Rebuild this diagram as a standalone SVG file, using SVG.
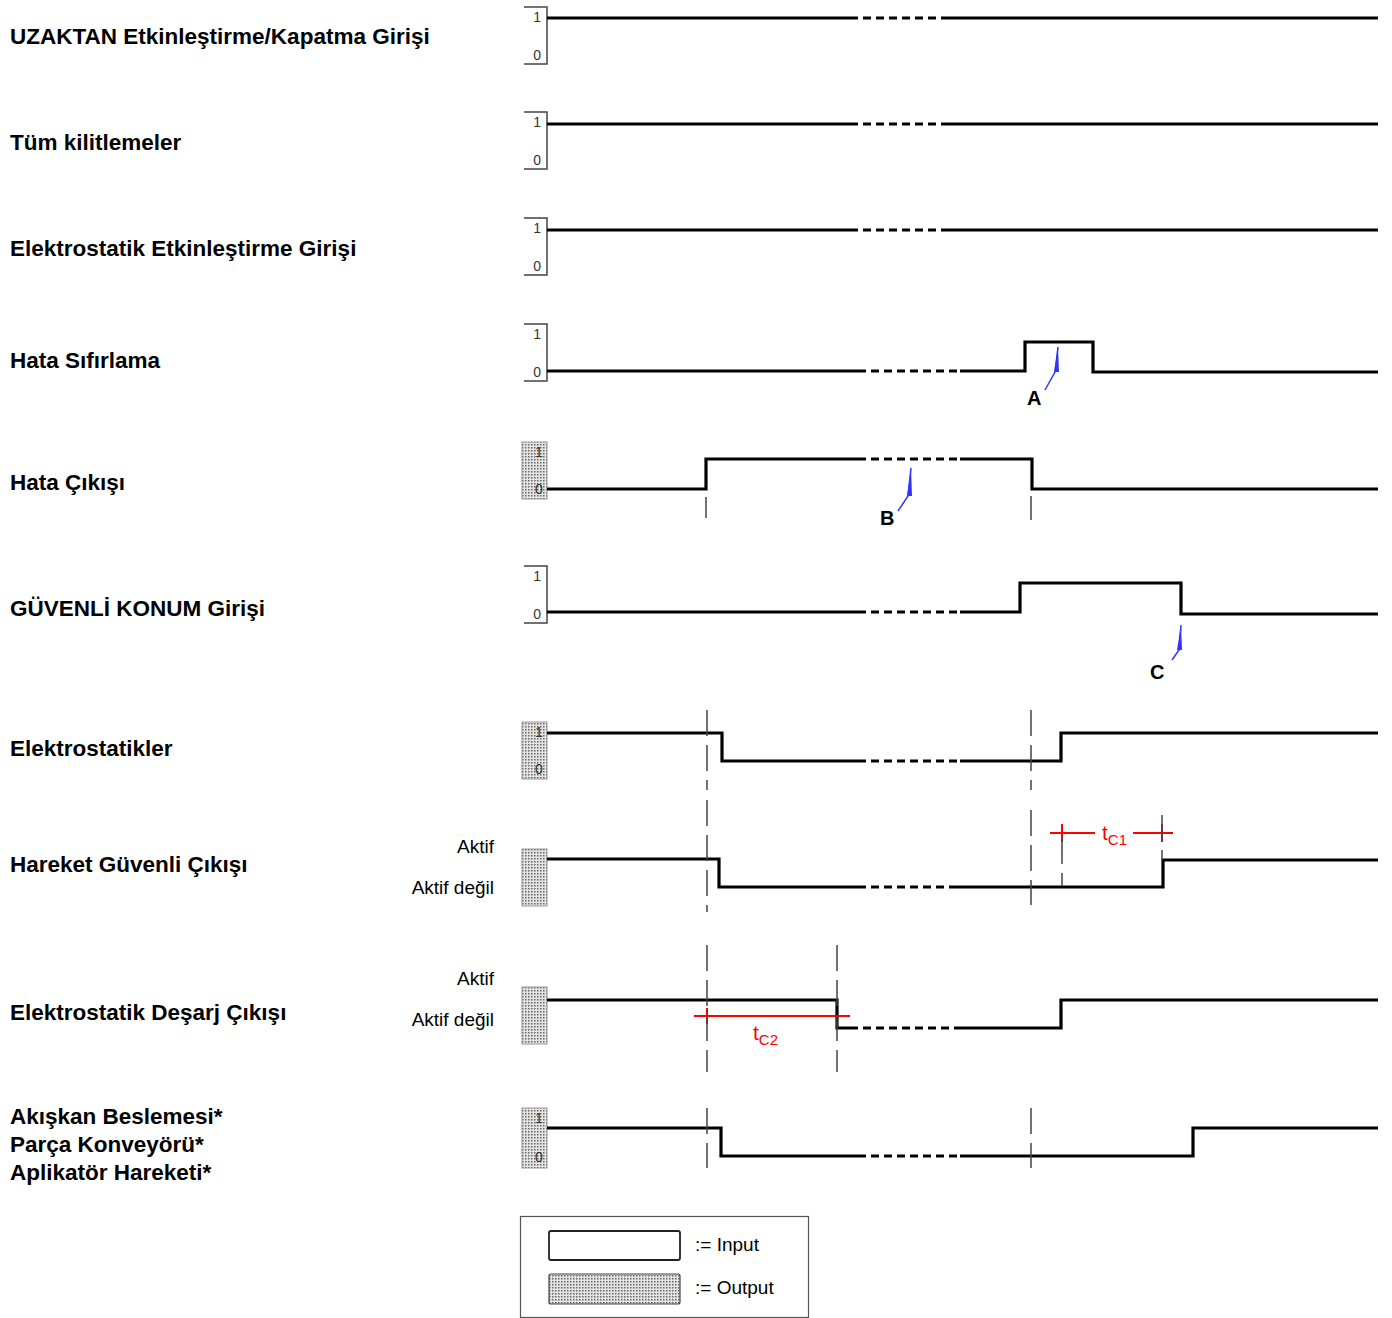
<svg xmlns="http://www.w3.org/2000/svg" width="1392" height="1318" viewBox="0 0 1392 1318">
<defs>
<pattern id="dots" width="3" height="3" patternUnits="userSpaceOnUse">
<rect width="3" height="3" fill="#e4e4e4"/>
<rect x="0" y="0" width="1.5" height="1.5" fill="#666"/>
</pattern>
<style>
.lbl{font-family:"Liberation Sans",Arial,sans-serif;font-weight:bold;font-size:22.5px;fill:#000}
.sm{font-family:"Liberation Sans",Arial,sans-serif;font-size:19px;fill:#000}
.dig{font-family:"Liberation Sans",Arial,sans-serif;font-size:14px;fill:#333}
.br{fill:none;stroke:#444;stroke-width:1.5}
.sig{fill:none;stroke:#000;stroke-width:3.2;stroke-linejoin:miter}
.dsh{fill:none;stroke:#000;stroke-width:3.2;stroke-dasharray:8 5}
.vd{fill:none;stroke:#444;stroke-width:1.5;stroke-dasharray:26 9}
.tk{fill:none;stroke:#444;stroke-width:1.5}
.out{fill:url(#dots);stroke:#999;stroke-width:1}
.red{fill:none;stroke:#f00;stroke-width:2}
.redt{font-family:"Liberation Sans",Arial,sans-serif;font-size:21px;fill:#f00}
.blue{fill:none;stroke:#33f;stroke-width:1.5}
.ann{font-family:"Liberation Sans",Arial,sans-serif;font-weight:bold;font-size:20px;fill:#000}
</style>
</defs>
<rect width="1392" height="1318" fill="#fff"/>

<g id="row-uzaktan">
<text class="lbl" x="10" y="44">UZAKTAN Etkinleştirme/Kapatma Girişi</text>
<path class="br" d="M524,7 H547 V64 H524"/>
<text class="dig" x="541" y="22" text-anchor="end">1</text>
<text class="dig" x="541" y="60" text-anchor="end">0</text>
<path class="sig" d="M547,18 H850 M945,18 H1378"/>
<path class="dsh" d="M850,18 H945"/>
</g>

<g id="row-kilit">
<text class="lbl" x="10" y="150">Tüm kilitlemeler</text>
<path class="br" d="M524,112 H547 V169 H524"/>
<text class="dig" x="541" y="127" text-anchor="end">1</text>
<text class="dig" x="541" y="165" text-anchor="end">0</text>
<path class="sig" d="M547,124 H850 M945,124 H1378"/>
<path class="dsh" d="M850,124 H945"/>
</g>

<g id="row-elektro-giris">
<text class="lbl" x="10" y="256">Elektrostatik Etkinleştirme Girişi</text>
<path class="br" d="M524,218 H547 V275 H524"/>
<text class="dig" x="541" y="233" text-anchor="end">1</text>
<text class="dig" x="541" y="271" text-anchor="end">0</text>
<path class="sig" d="M547,230 H850 M945,230 H1378"/>
<path class="dsh" d="M850,230 H945"/>
</g>

<g id="row-hata-sifirlama">
<text class="lbl" x="10" y="368">Hata Sıfırlama</text>
<path class="br" d="M524,324 H547 V381 H524"/>
<text class="dig" x="541" y="339" text-anchor="end">1</text>
<text class="dig" x="541" y="377" text-anchor="end">0</text>
<path class="sig" d="M547,371 H858 M960,371 H1025 V342 H1093 V372 H1378"/>
<path class="dsh" d="M858,371 H960"/>
<path class="blue" d="M1058,347 L1055,372 L1045,390"/>
<path d="M1058,347 L1059,372 L1054,372 Z" fill="#33f"/>
<text class="ann" x="1027" y="405">A</text>
</g>

<g id="row-hata-cikisi">
<text class="lbl" x="10" y="490">Hata Çıkışı</text>
<rect class="out" x="522" y="442" width="25" height="57"/>
<text class="dig" x="539" y="457" text-anchor="middle">1</text>
<text class="dig" x="539" y="494" text-anchor="middle">0</text>
<path class="sig" d="M547,489 H706 V459 H858 M960,459 H1032 V489 H1378"/>
<path class="dsh" d="M858,459 H960"/>
<path class="tk" d="M706,497 V518 M1031,496 V520"/>
<path class="blue" d="M911,468 L908,496 L898,511"/>
<path d="M911,468 L912,496 L907,496 Z" fill="#33f"/>
<text class="ann" x="880" y="525">B</text>
</g>

<g id="row-guvenli-konum">
<text class="lbl" x="10" y="616">GÜVENLİ KONUM Girişi</text>
<path class="br" d="M524,566 H547 V623 H524"/>
<text class="dig" x="541" y="581" text-anchor="end">1</text>
<text class="dig" x="541" y="619" text-anchor="end">0</text>
<path class="sig" d="M547,612 H858 M960,612 H1020 V583 H1181 V614 H1378"/>
<path class="dsh" d="M858,612 H960"/>
<path class="blue" d="M1181,625 L1179,650 L1172,660"/>
<path d="M1181,625 L1182,650 L1177,650 Z" fill="#33f"/>
<text class="ann" x="1150" y="679">C</text>
</g>

<g id="row-elektrostatikler">
<text class="lbl" x="10" y="756">Elektrostatikler</text>
<rect class="out" x="522" y="722" width="25" height="57"/>
<text class="dig" x="539" y="737" text-anchor="middle">1</text>
<text class="dig" x="539" y="774" text-anchor="middle">0</text>
<path class="sig" d="M547,733 H722 V761 H858 M960,761 H1061 V733 H1378"/>
<path class="dsh" d="M858,761 H960"/>
</g>

<g id="row-hareket">
<text class="lbl" x="10" y="872">Hareket Güvenli Çıkışı</text>
<text class="sm" x="494" y="853" text-anchor="end">Aktif</text>
<text class="sm" x="494" y="894" text-anchor="end">Aktif değil</text>
<rect class="out" x="522" y="849" width="25" height="57"/>
<path class="sig" d="M547,859 H719 V887 H858 M955,887 H1163 V860 H1378"/>
<path class="dsh" d="M858,887 H955"/>
<path class="red" d="M1050,833 H1095 M1133,833 H1173 M1062,824 V842 M1162,824 V842"/>
<text class="redt" x="1102" y="840">t<tspan font-size="15" dy="5">C1</tspan></text>
</g>

<g id="row-desarj">
<text class="lbl" x="10" y="1020">Elektrostatik Deşarj Çıkışı</text>
<text class="sm" x="494" y="985" text-anchor="end">Aktif</text>
<text class="sm" x="494" y="1026" text-anchor="end">Aktif değil</text>
<rect class="out" x="522" y="987" width="25" height="57"/>
<path class="sig" d="M547,1000 H837 V1028 H850 M955,1028 H1061 V1000 H1378"/>
<path class="dsh" d="M850,1028 H955"/>
<path class="red" d="M694,1016 H850 M707,1008 V1024"/>
<text class="redt" x="753" y="1040">t<tspan font-size="15" dy="5">C2</tspan></text>
</g>

<g id="row-akiskan">
<text class="lbl" x="10" y="1124">Akışkan Beslemesi*</text>
<text class="lbl" x="10" y="1152">Parça Konveyörü*</text>
<text class="lbl" x="10" y="1180">Aplikatör Hareketi*</text>
<rect class="out" x="522" y="1108" width="25" height="60"/>
<text class="dig" x="539" y="1123" text-anchor="middle">1</text>
<text class="dig" x="539" y="1162" text-anchor="middle">0</text>
<path class="sig" d="M547,1128 H721 V1156 H858 M960,1156 H1193 V1128 H1378"/>
<path class="dsh" d="M858,1156 H960"/>
</g>

<g id="connectors">
<path class="vd" d="M707,710 V790 M1031,710 V790"/>
<path class="vd" d="M707,800 V912 M1031,810 V905"/>
<path class="vd" d="M1062,838 V886 M1162,815 V860"/>
<path class="vd" d="M707,945 V1072 M837,945 V1072"/>
<path class="vd" d="M707,1108 V1168 M1031,1108 V1168"/>
</g>

<g id="legend">
<rect x="520.500" y="1216.500" width="288" height="101" fill="#fff" stroke="#555" stroke-width="1.2"/>
<rect x="549" y="1231" width="131" height="29" rx="2" fill="#fff" stroke="#222" stroke-width="1.8"/>
<text class="sm" x="695" y="1251">:= Input</text>
<rect x="549" y="1274" width="131" height="30" rx="2" fill="url(#dots)" stroke="#444" stroke-width="1.2"/>
<text class="sm" x="695" y="1294">:= Output</text>
</g>
</svg>
